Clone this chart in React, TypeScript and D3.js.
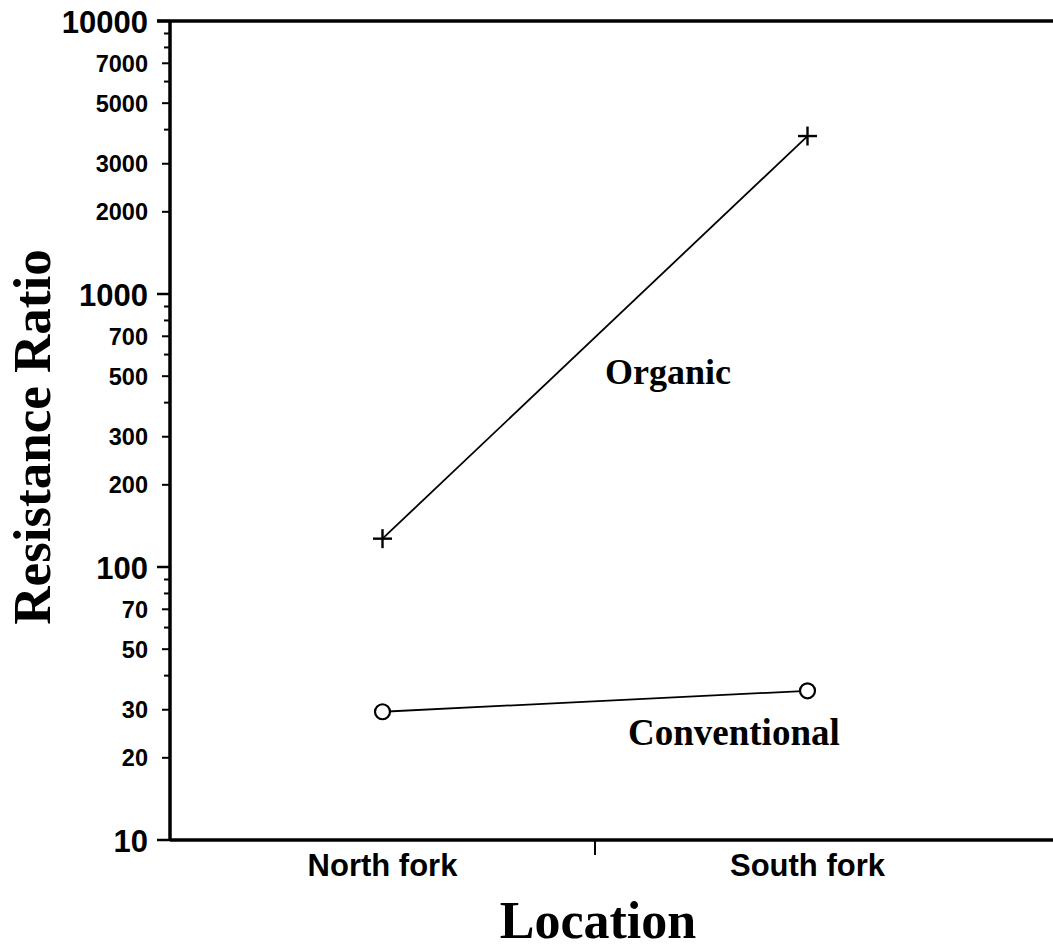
import React from "react";
import * as d3 from "d3";

const categories = ["North fork", "South fork"];
const organic = [127, 3790];
const conventional = [29.5, 35.2];
const majorTicks = [10, 100, 1000, 10000];
const labeledMinorTicks = [20, 30, 50, 70, 200, 300, 500, 700, 2000, 3000, 5000, 7000];
const unlabeledTicks = [40, 60, 80, 90, 400, 600, 800, 900, 4000, 6000, 8000, 9000];

const W = 1053;
const H = 951;
const left = 170;
const top = 21;
const bottom = 840;

export default function App() {
  const y = d3.scaleLog().domain([10, 10000]).range([bottom, top]);
  const x = d3.scaleBand().domain(categories).range([left, 1020]).paddingInner(0);
  const cx = (c: string) => (x(c) as number) + x.bandwidth() / 2;
  const line = d3
    .line<number>()
    .x((_, i) => cx(categories[i]))
    .y((d) => y(d));
  const sans = "'Liberation Sans', Arial, Helvetica, sans-serif";
  const serif = "'Liberation Serif', 'Times New Roman', serif";
  const boundary = x(categories[1]) as number;

  return (
    <svg
      width={W}
      height={H}
      style={{ position: "absolute", left: 0, top: 0, background: "#fff" }}
    >
      <rect x={0} y={0} width={W} height={H} fill="#fff" />
      {/* frame */}
      <line x1={157} x2={W} y1={top} y2={top} stroke="#000" strokeWidth={3.5} />
      <line x1={left} x2={W} y1={bottom} y2={bottom} stroke="#000" strokeWidth={3.5} />
      <line x1={left} x2={left} y1={top} y2={bottom} stroke="#000" strokeWidth={3.5} />
      {/* y ticks */}
      {majorTicks.map((t) => (
        <g key={"M" + t}>
          <line x1={157} x2={left} y1={y(t)} y2={y(t)} stroke="#000" strokeWidth={2.5} />
          <text
            x={148}
            y={y(t) + 11.5}
            textAnchor="end"
            fontFamily={sans}
            fontWeight="bold"
            fontSize={31}
          >
            {t}
          </text>
        </g>
      ))}
      {labeledMinorTicks.map((t) => (
        <g key={"L" + t}>
          <line x1={162} x2={left} y1={y(t)} y2={y(t)} stroke="#000" strokeWidth={2} />
          <text
            x={148}
            y={y(t) + 8.5}
            textAnchor="end"
            fontFamily={sans}
            fontWeight="bold"
            fontSize={23.5}
          >
            {t}
          </text>
        </g>
      ))}
      {unlabeledTicks.map((t) => (
        <line key={"U" + t} x1={164} x2={left} y1={y(t)} y2={y(t)} stroke="#000" strokeWidth={2} />
      ))}
      {/* x axis tick between categories */}
      <line x1={boundary} x2={boundary} y1={bottom} y2={855} stroke="#000" strokeWidth={2} />
      {categories.map((c) => (
        <text
          key={c}
          x={cx(c)}
          y={876}
          textAnchor="middle"
          fontFamily={sans}
          fontWeight="bold"
          fontSize={31}
        >
          {c}
        </text>
      ))}
      {/* series */}
      <path d={line(organic) as string} fill="none" stroke="#000" strokeWidth={1.8} />
      <path d={line(conventional) as string} fill="none" stroke="#000" strokeWidth={1.8} />
      {organic.map((v, i) => {
        const px = cx(categories[i]);
        const py = y(v);
        return (
          <g key={"o" + i} stroke="#000" strokeWidth={2.4}>
            <line x1={px - 9.5} x2={px + 9.5} y1={py} y2={py} />
            <line x1={px} x2={px} y1={py - 9.5} y2={py + 9.5} />
          </g>
        );
      })}
      {conventional.map((v, i) => (
        <circle
          key={"c" + i}
          cx={cx(categories[i])}
          cy={y(v)}
          r={7.5}
          fill="#fff"
          stroke="#000"
          strokeWidth={2.2}
        />
      ))}
      {/* series labels */}
      <text x={605} y={384} fontFamily={serif} fontWeight="bold" fontSize={36}>
        Organic
      </text>
      <text x={628} y={745} fontFamily={serif} fontWeight="bold" fontSize={37}>
        Conventional
      </text>
      {/* axis titles */}
      <text
        x={598}
        y={938}
        textAnchor="middle"
        fontFamily={serif}
        fontWeight="bold"
        fontSize={52}
      >
        Location
      </text>
      <text
        transform={`translate(50, 437) rotate(-90)`}
        textAnchor="middle"
        fontFamily={serif}
        fontWeight="bold"
        fontSize={53}
      >
        Resistance Ratio
      </text>
    </svg>
  );
}
